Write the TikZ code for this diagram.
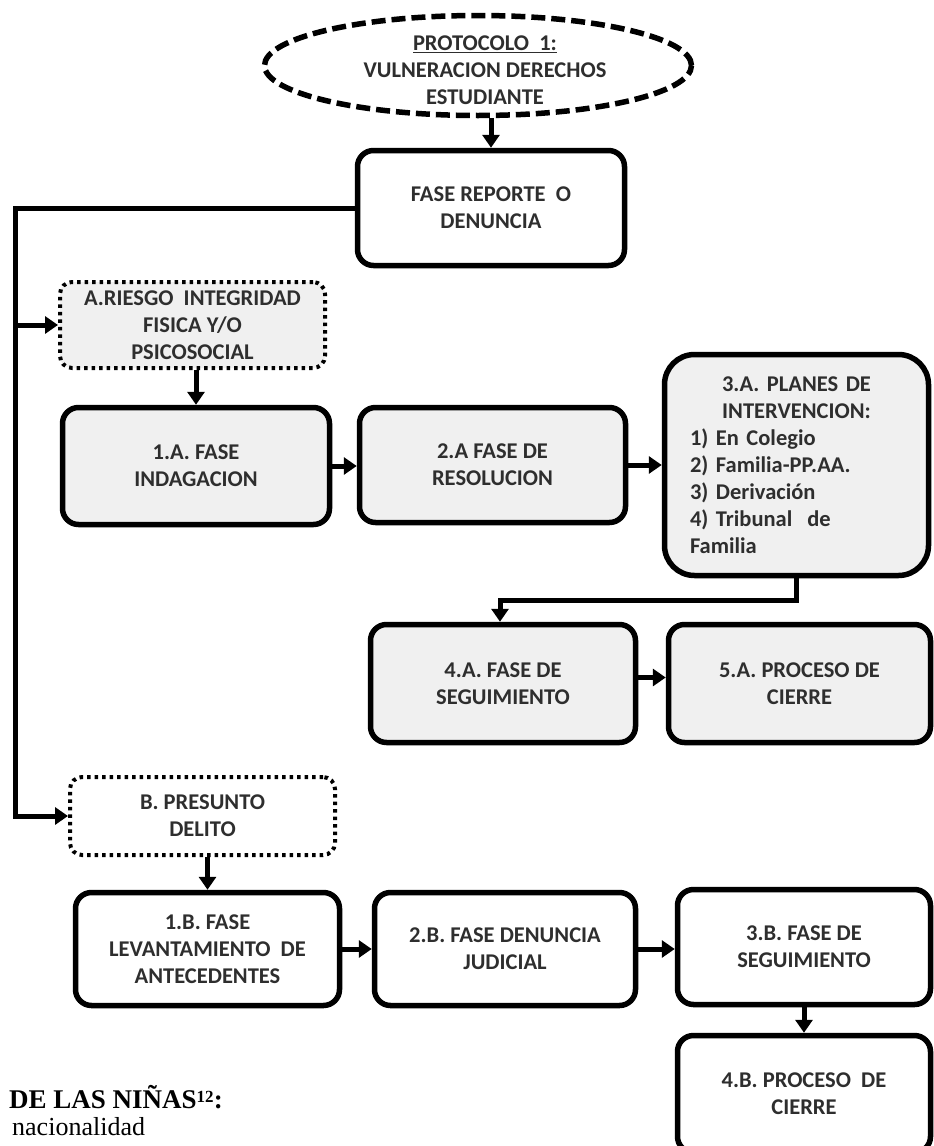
\documentclass[tikz,border=0pt]{standalone}
\usepackage{fontspec}
\setmainfont{Carlito}
\newfontfamily\footserif{Liberation Serif}
\usetikzlibrary{arrows.meta,shapes.geometric,calc}
\newcommand\bxfont{\fontsize{22.5}{27}\selectfont\bfseries}
\newcommand\ulbox[1]{\setbox0\hbox{#1}\rlap{\rule[-3pt]{\wd0}{1.6pt}}\box0}
\tikzset{
  box/.style={draw=black, line width=5.5pt, rounded corners=16pt, fill=white,
    align=center, font=\bxfont, text=black!82, inner sep=0pt},
  graybox/.style={box, fill=gray!12},
  dotbox/.style={box, line width=4pt, dash pattern=on 3.5pt off 4pt, rounded corners=12pt},
  arr/.style={line width=5pt, -{Triangle[width=17pt,length=13pt]}},
  link/.style={line width=5pt}
}
\begin{document}
\begin{tikzpicture}[x=1pt,y=-1pt]
\useasboundingbox (0,0) rectangle (934,1146);
\fill[white] (0,0) rectangle (934,1146);
\clip (0,0) rectangle (934,1146);

% top ellipse
\node[ellipse, draw=black, line width=5.5pt, dash pattern=on 14pt off 6pt,
  minimum width=427pt, minimum height=100pt, inner sep=0pt] (ell) at (478,65.5) {};
\node[font=\bxfont, text=black!82, align=center] (elltext) at (485,70)
  {\ulbox{PROTOCOLO\ \ 1:}\\VULNERACION DERECHOS\\ESTUDIANTE};

\node[box, minimum width=267pt, minimum height=115pt] (rep) at (491,208)
  {FASE REPORTE\ \ O\\DENUNCIA};

% branch A
\node[dotbox, fill=gray!12, minimum width=265pt, minimum height=86pt] (A) at (192.5,325)
  {A.RIESGO\ \ INTEGRIDAD\\FISICA Y/O\\PSICOSOCIAL};
\node[graybox, minimum width=267pt, minimum height=117pt] (a1) at (196,466)
  {1.A. FASE\\INDAGACION};
\node[graybox, minimum width=266pt, minimum height=115pt] (a2) at (492.5,465)
  {2.A FASE DE\\RESOLUCION};
\node[graybox, rounded corners=30pt, minimum width=264pt, minimum height=221pt,
  text width=213pt, align=left] (a3) at (796.5,465)
  {\makebox[213pt][c]{3.A. PLANES DE}\\
   \makebox[213pt][c]{INTERVENCION:}\\
   1) En Colegio\\
   2) Familia-PP.AA.\\
   3) Derivación\\
   4) Tribunal\ \ de\\
   Familia};
\node[graybox, minimum width=265pt, minimum height=118pt] (a4) at (503,683.5)
  {4.A. FASE DE\\SEGUIMIENTO};
\node[graybox, minimum width=262pt, minimum height=118pt] (a5) at (799.5,683.5)
  {5.A. PROCESO DE\\CIERRE};

% branch B
\node[dotbox, minimum width=265pt, minimum height=78pt] (B) at (202.5,816)
  {B. PRESUNTO\\DELITO};
\node[box, minimum width=264pt, minimum height=113pt] (b1) at (207.5,949)
  {1.B. FASE\\LEVANTAMIENTO\ \ DE\\ANTECEDENTES};
\node[box, minimum width=261pt, minimum height=113pt] (b2) at (505,949)
  {2.B. FASE DENUNCIA\\JUDICIAL};
\node[box, minimum width=253pt, minimum height=115pt] (b3) at (804,947)
  {3.B. FASE DE\\SEGUIMIENTO};
\node[box, minimum width=253pt, minimum height=117pt] (b4) at (804,1094)
  {4.B. PROCESO\ \ DE\\CIERRE};

% page text underneath
\node[anchor=base west, inner sep=0pt, font=\footserif\fontsize{27}{30}\selectfont\bfseries]
  (foot1) at (9,1108) {DE LAS NIÑAS\raisebox{6pt}{\fontsize{17}{18}\selectfont 12}:};
\node[anchor=base west, inner sep=0pt, font=\footserif\fontsize{26}{30}\selectfont]
  (foot2) at (12,1135) {nacionalidad};

% connectors
\coordinate (t2) at (15,816);
\draw[arr] (rep.north |- ell.south) -- (rep.north);
\draw[arr] (rep.west) -| (t2) -- (B.west);
\draw[arr] (t2 |- A.west) -- (A.west);
\draw[arr] (a1.north |- A.south) -- (a1.north);
\draw[arr] (a1.east) -- (a1.east -| a2.west);
\draw[arr] (a2.east) -- (a2.east -| a3.west);
\draw[arr] (a3.south) -- ++(0,22) -| ([xshift=-3pt]a4.north);
\draw[arr] ([yshift=6pt]a4.east) -- ([yshift=6pt]a4.east -| a5.west);
\draw[arr] (b1.north |- B.south) -- (b1.north);
\draw[arr] (b1.east) -- (b1.east -| b2.west);
\draw[arr] (b2.east) -- (b2.east -| b3.west);
\draw[arr] (b3.south) -- (b4.north);
\end{tikzpicture}
\end{document}
